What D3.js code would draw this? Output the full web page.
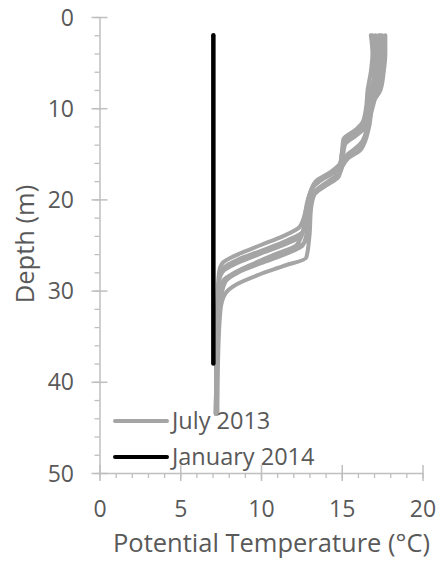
<!DOCTYPE html>
<html><head><meta charset="utf-8">
<script src="https://cdn.jsdelivr.net/npm/d3@7"></script>
<style>body{margin:0;background:#fff} text{font-family:"Open Sans",sans-serif;fill:#595959}</style>
</head><body><svg id="c" width="441" height="565"></svg>
<script>
// Data: [depth (m), potential temperature (°C)]
const seriesNames = ["July 2013", "January 2014"];
const depthTicks = [0, 10, 20, 30, 40, 50];
const tempTicks = [0, 5, 10, 15, 20];

const july1 = [[2,16.8],[4,16.9],[6,16.8],[8,16.6],[10,16.5],[11.5,16.3],[12.3,15.9],[13.4,15.1],[15,15.0],[16,14.9],[17,14.3],[18,13.4],[19,13.1],[21,12.8],[23,12.4],[24,11.4],[25,10.0],[26,8.6],[27,7.6],[28,7.4],[31,7.3],[36,7.25],[43.5,7.2]];
const july2 = [[2,17.1],[4,17.2],[6,17.1],[8,16.8],[10,16.6],[11.8,16.4],[12.6,15.9],[13.6,15.2],[15,15.0],[16.3,14.9],[17.3,14.2],[18.5,13.3],[19.5,13.0],[22,12.7],[23.5,12.6],[24.5,11.6],[25.5,10.2],[26.5,8.7],[27.5,7.7],[29,7.4],[33,7.3],[43.5,7.2]];
const july3 = [[2,17.4],[4,17.6],[6,17.5],[8,17.2],[10,16.9],[12,16.6],[13.8,16.2],[14.8,15.6],[16,15.1],[17,14.9],[18.2,14.0],[19.2,13.3],[20,13.1],[23,12.9],[25,12.6],[26,11.5],[27,10.0],[28,8.6],[29,7.8],[31,7.5],[36,7.3],[43.5,7.25]];
const july4 = [[2,17.7],[4,17.7],[6,17.6],[8,17.4],[9.5,16.9],[12,16.7],[14.5,16.2],[15.5,15.4],[16.5,15.0],[17.5,14.8],[18.5,14.0],[19.5,13.3],[21,13.1],[24,13.0],[26.4,12.8],[27.3,11.4],[28.3,9.8],[29.3,8.5],[30.3,7.8],[32,7.5],[37,7.35],[43.5,7.3]];
const july5 = [[2,16.9],[4,17.0],[6,17.0],[8,16.9],[10,16.7],[12,16.5],[13,15.9],[14,15.2],[16,15.0],[17,14.6],[18,13.6],[19,13.1],[21,12.9],[23.5,12.6],[25,12.2],[26,10.9],[27,9.6],[28,8.4],[28.8,7.7],[30,7.5],[35,7.3],[43.5,7.2]];
const july6 = [[2,17.3],[4,17.4],[6,17.3],[8,17.0],[10,16.8],[12,16.6],[14,16.2],[15,15.4],[16,15.0],[17.5,14.8],[18.5,14.0],[19.5,13.2],[22,12.9],[24.5,12.8],[25.5,11.9],[26.5,10.5],[27.5,9.0],[28.5,8.0],[29.5,7.6],[32,7.4],[43.5,7.25]];
const july7 = [[2,17.5],[4,17.5],[6,17.3],[8,17.1],[10,16.7],[12,16.4],[13,15.8],[14,15.1],[16,14.95],[17,14.5],[18,13.5],[19,13.1],[22,12.8],[24,12.5],[25,11.4],[26,9.9],[27,8.5],[27.8,7.7],[29,7.4],[34,7.3],[43.5,7.2]];
const january1 = [[2,7.05],[38,7.05]];

const julyProfiles = [july1, july2, july3, july4, july5, july6, july7];
const januaryProfiles = [january1];

const svg = d3.select("#c");
const x = d3.scaleLinear().domain([0, 20]).range([99.5, 422.5]);
const y = d3.scaleLinear().domain([0, 50]).range([17, 473]);
const axisColor = "#bfbfbf";

// minor ticks
const gyMinor = svg.append("g").attr("transform", `translate(${x(0)},0)`)
  .call(d3.axisLeft(y).tickValues(d3.range(0, 51, 2)).tickSize(5).tickFormat(""));
const gxMinor = svg.append("g").attr("transform", `translate(0,${y(50)})`)
  .call(d3.axisBottom(x).tickValues(d3.range(0, 21, 1)).tickSize(5).tickFormat(""));
[gyMinor, gxMinor].forEach(g => { g.select(".domain").remove(); g.selectAll("line").attr("stroke", axisColor).attr("stroke-width", 1.3); });

// major axes
const gy = svg.append("g").attr("transform", `translate(${x(0)},0)`)
  .call(d3.axisLeft(y).tickValues(depthTicks).tickSizeOuter(0).tickFormat(d3.format("d")));
gy.selectAll(".tick line").attr("x1", 8).attr("x2", -8);
gy.selectAll(".tick text").attr("x", -25.5).attr("dy", "0.35em").style("font-size", "23px");
const gx = svg.append("g").attr("transform", `translate(0,${y(50)})`)
  .call(d3.axisBottom(x).tickValues(tempTicks).tickSizeOuter(0).tickFormat(d3.format("d")));
gx.selectAll(".tick line").attr("y1", -8).attr("y2", 8);
gx.selectAll(".tick text").attr("y", 36).attr("dy", "0.35em").style("font-size", "23px");
[gy, gx].forEach(g => {
  g.select(".domain").attr("stroke", axisColor).attr("stroke-width", 1.5);
  g.selectAll(".tick line").attr("stroke", axisColor).attr("stroke-width", 1.5);
  g.selectAll("text").attr("fill", "#595959").attr("font-family", "Open Sans");
});

// lines
const line = d3.line().x(d => x(d[1])).y(d => y(d[0])).curve(d3.curveMonotoneY);
svg.append("g").selectAll("path").data(julyProfiles).join("path")
  .attr("d", line).attr("fill", "none").attr("stroke", "#a5a5a5").attr("stroke-width", 4)
  .attr("stroke-linejoin", "round").attr("stroke-linecap", "round");
svg.append("g").selectAll("path").data(januaryProfiles).join("path")
  .attr("d", line).attr("fill", "none").attr("stroke", "#000").attr("stroke-width", 4.5)
  .attr("stroke-linejoin", "round").attr("stroke-linecap", "round");

// axis titles
svg.append("text").attr("x", 271.5).attr("y", 552).attr("text-anchor", "middle")
  .style("font-size", "25.5px").text("Potential Temperature (°C)");
svg.append("text").attr("transform", "translate(34,244) rotate(-90)").attr("text-anchor", "middle")
  .style("font-size", "25.5px").text("Depth (m)");

// legend
const legColors = ["#a5a5a5", "#000"];
const leg = svg.append("g").selectAll("g").data(seriesNames).join("g")
  .attr("transform", (d, i) => `translate(0,${421 + i * 36})`);
leg.append("line").attr("x1", 115).attr("x2", 167).attr("stroke", (d, i) => legColors[i]).attr("stroke-width", 4)
  .attr("stroke-linecap", "round");
leg.append("text").attr("x", 172).attr("dy", "0.35em").style("font-size", "23.5px").text(d => d);
</script></body></html>
